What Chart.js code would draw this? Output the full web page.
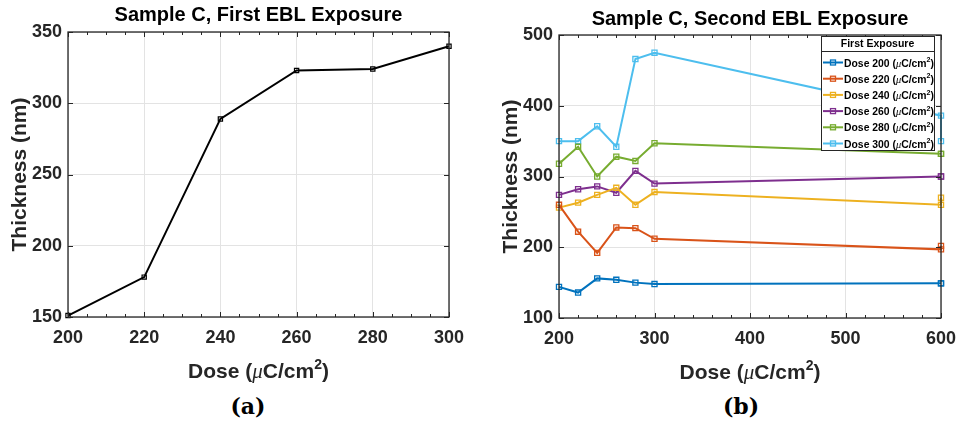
<!DOCTYPE html>
<html>
<head>
<meta charset="utf-8">
<script src="https://cdn.jsdelivr.net/npm/chart.js@4/dist/chart.umd.min.js"></script>
<style>
  body { margin: 0; background: #fff; width: 957px; height: 423px; position: relative; overflow: hidden; }
  canvas { position: absolute; top: 0; }
  #graficoA { left: 0; }
  #graficoB { left: 491px; }
  .legenda { position: absolute; top: 393px; width: 60px; margin-left: -30px; text-align: center;
             font: bold 22px "DejaVu Serif", "Liberation Serif", serif; color: #000; }
</style>
</head>
<body>
<canvas id="graficoA" width="470" height="390"></canvas>
<canvas id="graficoB" width="466" height="390"></canvas>
<div class="legenda" style="left:248px">(a)</div>
<div class="legenda" style="left:741px">(b)</div>
<script>
// Dados do painel (a): primeira exposição
const dosePrimeira = [200, 220, 240, 260, 280, 300];
const espessuraPrimeira = [151, 178, 289, 323, 324, 340];

// Dados do painel (b): segunda exposição (600 aparece duas vezes)
const doseSegunda = [200, 220, 240, 260, 280, 300, 600, 600];
const rotulosSerie = ["Dose 200", "Dose 220", "Dose 240", "Dose 260", "Dose 280", "Dose 300"];
const serie200 = [144, 136, 156, 154, 150, 148, 149, 149];
const serie220 = [260, 222, 192, 228, 227, 212, 197, 202];
const serie240 = [256, 263, 274, 284, 260, 278, 260, 270];
const serie260 = [274, 282, 286, 277, 308, 290, 300, 300];
const serie280 = [318, 342, 300, 328, 322, 347, 332, 332];
const serie300 = [350, 350, 371, 342, 466, 475, 386, 350];
const cores = ["#0072BD", "#D95319", "#EDB120", "#7E2F8E", "#77AC30", "#4DBEEE"];

// Ticks dos eixos
const ticksXA = [200, 220, 240, 260, 280, 300];
const ticksYA = [150, 200, 250, 300, 350];
const ticksXB = [200, 300, 400, 500, 600];
const ticksYB = [100, 200, 300, 400, 500];

const FONTE = "'Liberation Sans', Arial, Helvetica, sans-serif";
const CINZA = "#262626";
Chart.defaults.font.family = FONTE;
Chart.defaults.color = CINZA;

// Junta x e y em pontos para o Chart.js
function pontos(xs, ys) {
  return xs.map((x, i) => ({ x: x, y: ys[i] }));
}

// Texto com fontes diferentes (μ em itálico, expoente 2)
function partesDose(prefixo, tam) {
  return [
    { t: prefixo + " (", f: `bold ${tam}px ${FONTE}` },
    { t: "μ", f: `italic ${tam}px 'Liberation Serif', 'DejaVu Serif', serif` },
    { t: "C/cm", f: `bold ${tam}px ${FONTE}` },
    { t: "2", f: `bold ${Math.round(tam * 0.68)}px ${FONTE}`, dy: -tam * 0.42 },
    { t: ")", f: `bold ${tam}px ${FONTE}` },
  ];
}

function desenharPartes(ctx, partes, x, y, centro) {
  let total = 0;
  partes.forEach((p) => {
    ctx.font = p.f;
    p.w = ctx.measureText(p.t).width;
    total += p.w;
  });
  let cx = centro ? x - total / 2 : x;
  ctx.textBaseline = "alphabetic";
  ctx.textAlign = "left";
  partes.forEach((p) => {
    ctx.font = p.f;
    ctx.fillText(p.t, cx, y + (p.dy || 0));
    cx += p.w;
  });
}

// Caixa, ticks para dentro, título e título do eixo x, estilo MATLAB
const eixosMatlab = {
  id: "eixosMatlab",
  afterDatasetsDraw(chart, args, opts) {
    const { ctx, chartArea: a, scales } = chart;
    const x = scales.x;
    const y = scales.y;
    ctx.save();
    ctx.strokeStyle = CINZA;
    ctx.lineWidth = 1;
    ctx.beginPath();
    // ticks x (maiores e menores)
    for (let v = x.min; v <= x.max + 0.001; v += opts.menorX) {
      const px = Math.round(x.getPixelForValue(v)) + 0.5;
      const maior = x.ticks.some((t) => t.value === v);
      const len = maior ? 5 : 3;
      ctx.moveTo(px, a.bottom);
      ctx.lineTo(px, a.bottom - len);
      ctx.moveTo(px, a.top);
      ctx.lineTo(px, a.top + len);
    }
    y.ticks.forEach((t) => {
      const py = Math.round(y.getPixelForValue(t.value)) + 0.5;
      ctx.moveTo(a.left, py);
      ctx.lineTo(a.left + 5, py);
      ctx.moveTo(a.right, py);
      ctx.lineTo(a.right - 5, py);
    });
    ctx.stroke();
    ctx.lineWidth = 1.3;
    ctx.strokeRect(a.left, a.top, a.right - a.left, a.bottom - a.top);

    // título centrado sobre a área do gráfico
    ctx.fillStyle = "#000";
    ctx.font = `bold 20px ${FONTE}`;
    ctx.textAlign = "center";
    ctx.textBaseline = "middle";
    ctx.fillText(opts.titulo, (a.left + a.right) / 2, opts.tituloY);

    ctx.fillStyle = CINZA;
    desenharPartes(ctx, partesDose("Dose", 21), (a.left + a.right) / 2, a.bottom + 61, true);
    ctx.restore();
  },
};

// Legenda dentro da área do gráfico (b)
const legendaInterna = {
  id: "legendaInterna",
  afterDraw(chart, args, opts) {
    if (!opts.mostrar) return;
    const { ctx, chartArea: a } = chart;
    const larg = 113, alt = 114;
    const x0 = a.right - 7 - larg;
    const y0 = a.top + 1;
    ctx.save();
    ctx.fillStyle = "#fff";
    ctx.fillRect(x0, y0, larg, alt);
    ctx.strokeStyle = CINZA;
    ctx.lineWidth = 1;
    ctx.strokeRect(x0 + 0.5, y0 + 0.5, larg, alt);
    ctx.beginPath();
    ctx.moveTo(x0, y0 + 15.5);
    ctx.lineTo(x0 + larg, y0 + 15.5);
    ctx.stroke();
    ctx.fillStyle = "#000";
    ctx.font = `bold 10.5px ${FONTE}`;
    ctx.textAlign = "center";
    ctx.textBaseline = "middle";
    ctx.fillText(opts.titulo, x0 + larg / 2, y0 + 8.5);
    chart.data.datasets.forEach((ds, i) => {
      const yy = y0 + 26.5 + i * 16.2;
      ctx.strokeStyle = ds.borderColor;
      ctx.lineWidth = 2;
      ctx.beginPath();
      ctx.moveTo(x0 + 2, yy);
      ctx.lineTo(x0 + 22, yy);
      ctx.stroke();
      ctx.lineWidth = 1.3;
      ctx.strokeRect(x0 + 9.5, yy - 2.5, 5, 5);
      ctx.fillStyle = "#000";
      desenharPartes(ctx, partesDose(ds.label, 10.4), x0 + 23, yy + 4, false);
    });
    ctx.restore();
  },
};

function criarGrafico(id, conjuntos, cfg) {
  const ctx = document.getElementById(id).getContext("2d");
  return new Chart(ctx, {
    type: "line",
    data: { datasets: conjuntos },
    plugins: [eixosMatlab, legendaInterna],
    options: {
      responsive: false,
      animation: false,
      layout: { padding: { left: 0, right: cfg.padDireita, top: cfg.topo, bottom: 0 } },
      plugins: {
        legend: { display: false },
        tooltip: { enabled: false },
        title: { display: false },
        eixosMatlab: { menorX: cfg.menorX, titulo: cfg.titulo, tituloY: cfg.tituloY },
        legendaInterna: { mostrar: cfg.legenda, titulo: "First Exposure" },
      },
      scales: {
        x: {
          type: "linear",
          min: cfg.ticksX[0],
          max: cfg.ticksX[cfg.ticksX.length - 1],
          afterBuildTicks: (s) => { s.ticks = cfg.ticksX.map((v) => ({ value: v })); },
          afterFit: (s) => {
            s.height = cfg.alturaX;
            s.paddingLeft = 0;
            s.paddingRight = 0;
          },
          ticks: { font: { size: 18, weight: "bold" }, padding: 10, maxRotation: 0 },
          grid: { color: "#e3e3e3", drawTicks: false },
          border: { display: false },
        },
        y: {
          min: cfg.ticksY[0],
          max: cfg.ticksY[cfg.ticksY.length - 1],
          afterBuildTicks: (s) => { s.ticks = cfg.ticksY.map((v) => ({ value: v })); },
          afterFit: (s) => {
            s.width = 68;
            s.paddingTop = 0;
            s.paddingBottom = 0;
          },
          ticks: { font: { size: 18, weight: "bold" }, padding: 6 },
          grid: { color: "#e3e3e3", drawTicks: false },
          border: { display: false },
          title: {
            display: true,
            text: "Thickness (nm)",
            font: { size: 21, weight: "bold" },
            padding: { top: 8, bottom: 0 },
          },
        },
      },
    },
  });
}

// Painel (a)
criarGrafico("graficoA", [
  {
    label: "First",
    data: pontos(dosePrimeira, espessuraPrimeira),
    borderColor: "#000",
    backgroundColor: "rgba(0,0,0,0)",
    borderWidth: 2,
    pointStyle: "rect",
    pointRadius: 3,
    pointBorderWidth: 1.2,
    tension: 0,
    clip: false,
  },
], {
  titulo: "Sample C, First EBL Exposure",
  topo: 32, tituloY: 15,
  ticksX: ticksXA, ticksY: ticksYA, menorX: 5,
  alturaX: 73, padDireita: 21, legenda: false,
});

// Painel (b)
const seriesSegunda = [serie200, serie220, serie240, serie260, serie280, serie300];
criarGrafico("graficoB", seriesSegunda.map((s, i) => ({
  label: rotulosSerie[i],
  data: pontos(doseSegunda, s),
  borderColor: cores[i],
  backgroundColor: "rgba(0,0,0,0)",
  borderWidth: 2,
  pointStyle: "rect",
  pointRadius: 3.6,
  pointBorderWidth: 1.3,
  tension: 0,
  clip: false,
})), {
  titulo: "Sample C, Second EBL Exposure",
  topo: 35, tituloY: 19,
  ticksX: ticksXB, ticksY: ticksYB, menorX: 20,
  alturaX: 72, padDireita: 16, legenda: true,
});
</script>
</body>
</html>
